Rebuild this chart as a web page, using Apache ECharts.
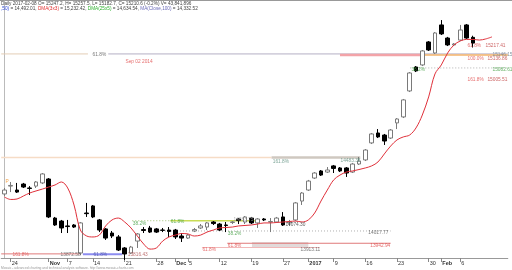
<!DOCTYPE html>
<html><head><meta charset="utf-8">
<script src="https://cdn.jsdelivr.net/npm/echarts@6/dist/echarts.min.js"></script>
<style>html,body{margin:0;padding:0;background:#fff}#c{width:512px;height:270px}</style>
</head><body><div id="c"></div>
<script>
const categories = ['2016-10-21','2016-10-24','2016-10-25','2016-10-26','2016-10-27','2016-10-28','2016-10-31','2016-11-01','2016-11-02','2016-11-04',
'2016-11-07','2016-11-08','2016-11-09','2016-11-10','2016-11-14','2016-11-15','2016-11-16','2016-11-17','2016-11-18','2016-11-21',
'2016-11-22','2016-11-23','2016-11-24','2016-11-25','2016-11-28','2016-11-29','2016-11-30','2016-12-01','2016-12-02','2016-12-05',
'2016-12-06','2016-12-07','2016-12-08','2016-12-09','2016-12-12','2016-12-13','2016-12-14','2016-12-15','2016-12-16','2016-12-19',
'2016-12-20','2016-12-21','2016-12-22','2016-12-23','2016-12-27','2016-12-28','2016-12-29','2016-12-30','2017-01-03','2017-01-04',
'2017-01-05','2017-01-06','2017-01-09','2017-01-10','2017-01-11','2017-01-12','2017-01-13','2017-01-16','2017-01-17','2017-01-18',
'2017-01-19','2017-01-20','2017-01-23','2017-01-24','2017-01-25','2017-01-26','2017-01-27','2017-01-30','2017-01-31','2017-02-01',
'2017-02-02','2017-02-03','2017-02-06','2017-02-07','2017-02-08','2017-02-09','2017-02-10','2017-02-13','2017-02-14','2017-02-15'];

const openV  = [14253,14303,14278,14316,14291,14303,14323,14348,14100,14081,14050,14056,13878,14132,14177,14088,14031,14005,13980,13910,
13878,13954,14027,14037,14031,14024,14024,14024,13986,13973,14018,14037,14043,14075,14062,14056,14072,14094,14075,14100,
14069,14094,14075,14075,14107,14069,14088,14208,14278,14354,14399,14392,14431,14418,14418,14392,14443,14469,14577,14640,
14627,14608,14704,14742,14907,15059,15072,15218,15148,15326,15243,15199,15230,15326,15247.2];
const closeV = [14278,14307,14265,14297,14288,14329,14380,14107,14056,14037,14046,14043,14069,14128,14107,14024,13973,13986,13897,13872,
13916,13999,14021,14011,14011,14022,14015,13980,13973,13992,14027,14050,14069,14065,14024,14053,14075,14084,14107,14069,
14094,14088,14078,14100,14056,14075,14196,14259,14335,14386,14373,14405,14415,14399,14386,14443,14462,14532,14634,14615,
14589,14659,14729,14850,15021,15034,15161,15167,15275,15269,15199,15205,15294,15243,15210.6];
const lowV   = [14240,14265,14259,14291,14246,14291,14316,14100,14050,14005,14005,14037,13865,14107,14100,14011,13961,13973,13891,13834,
13872,13910,14005,14005,14005,14011,13980,13967,13948,13967,14011,14031,14024,14056,14018,14011,14062,14062,14062,14062,
14037,14081,14011,14069,14050,14050,14081,14183,14272,14348,14367,14386,14386,14392,14361,14386,14437,14462,14570,14608,
14564,14602,14665,14735,14900,15027,15065,15161,15142,15262,15192,15192,15224,15237,15182.7];
const highV  = [14291,14329,14323,14323,14303,14335,14386,14354,14107,14088,14088,14062,14075,14196,14183,14094,14037,14018,13992,13916,
13923,14005,14043,14050,14037,14037,14043,14031,14005,13999,14037,14062,14075,14081,14069,14075,14081,14100,14113,14107,
14100,14100,14100,14107,14138,14088,14202,14265,14342,14392,14405,14424,14437,14424,14424,14450,14488,14538,14640,14665,
14634,14665,14735,14856,15027,15065,15167,15224,15281,15357,15250,15211,15326,15332,15257.5];

// DMA(3x3) red line (displaced 3 bars forward)
const dma3x3 = [14234,14218,14221,14240,14259,14272,14284,14297,14310,14329,
14291,14183,14024,13986,13980,13992,14050,14088,14100,14075,
14037,13986,13935,13903,13910,13954,13980,13992,14002,13999,
13986,13992,14011,14024,14037,14040,14043,14050,14053,14056,
14062,14069,14069,14072,14075,14078,14081,14075,14088,14132,
14208,14278,14342,14373,14392,14399,14408,14418,14431,14456,
14507,14557,14596,14615,14627,14672,14754,14869,15015,15072,
15148,15199,15224,15234,15234,15230,15237,15250,null,null];

const tickIndex = [1,7,10,14,19,24,27,29,34,39,44,48,52,57,62,67,69,72];
const tickText  = ['24','Nov','7','14','21','28','Dec','5','12','19','27','2017','9','16','23','30','Feb','6'];
const boldTicks = ['Nov','Dec','2017','Feb'];

// level lines: [fromIndex, toIndex, value, style]
const levelLines = [
  [-0.5, 13.2, 15142, 'tan'],
  [16.4, 79.5, 15142, 'lav'],
  [53, 66.1, 15135, 'pink'],
  [66.1, 79.5, 15135, 'orange'],
  [64.1, 79.5, 15053, 'dotGray'],
  [-0.5, 42.2, 14484, 'peach'],
  [42.2, 56.2, 14484, 'grayBand'],
  [20.2, 26.2, 14083, 'dotGreen'],
  [26.2, 39.9, 14083, 'yellow'],
  [23, 61, 14018, 'dotGray'],
  [39.1, 48, 13932, 'box'],
  [35.2, 61, 13940, 'red'],
  [31.2, 49.8, 13913, 'pinkThin'],
  [-0.5, 11.9, 13872.58, 'red'],
  [12.4, 18.6, 13870, 'blue']
];
// level labels: [text, index, value, colorKey]
const levelLabels = [
  ['61.8%', 13.85, 15135, 'dk'],
  ['Sep 02 2014', 19.05, 15091, 'rd'],
  ['61.8%', 73.06, 15192, 'rd'],
  ['15217.41', 75.9, 15192, 'drd'],
  ['100.0%', 73.06, 15113, 'rd'],
  ['15136.86', 76.2, 15113, 'drd'],
  ['15146.15', 77.0, 15137, 'gb'],
  ['38.2%', 64.2, 15040, 'gr'],
  ['15082.61', 77.0, 15040, 'gr'],
  ['161.8%', 73.06, 14980, 'rd'],
  ['15005.51', 76.2, 14980, 'drd'],
  ['161.8%', 42.3, 14456, 'gg'],
  ['14483.38', 53.0, 14462, 'gg'],
  ['38.2%', 20.2, 14065, 'gr'],
  ['61.8%', 26.2, 14078, 'gr'],
  ['14083.75', 36.1, 14091, 'g2'],
  ['14074.30', 44.3, 14056, 'bk'],
  ['38.2%', 35.2, 13999, 'gr'],
  ['14017.77', 57.4, 14005, 'dk'],
  ['61.8%', 35.2, 13926, 'rd'],
  ['13942.94', 57.7, 13923, 'rd'],
  ['61.8%', 31.2, 13900, 'rd'],
  ['13913.11', 46.7, 13900, 'dk'],
  ['161.8%', 1.2, 13869, 'rd'],
  ['13872.58', 8.8, 13869, 'dk'],
  ['61.8%', 14.0, 13869, 'bl'],
  ['13816.43', 19.4, 13869, 'br'],
  ['P', 0.1, 14329, 'or']
];

const header1 = 'Daily 2017-02-08 O= 15247.2, H= 15257.5, L= 15182.7, C= 15210.6 (-0.2%) V= 43,841,896';
const header2 = '{b|,50)}{k| = 14,492.01, }{r|DMA(3x3)}{k| = 15,232.42, }{g|DMA(25x5)}{k| = 14,634.54, }{p|MA(Close,100)}{k| = 14,332.52}';
const footer = 'Mosaic - advanced charting and technical analysis software. http://www.mosaic-charts.com';

const FONT = '"Liberation Sans", Arial, sans-serif';
const HF = 4.7;
const lineStyles = {
  tan: {color:'#e3cdb5', width:1},
  lav: {color:'#b4b0c4', width:1},
  pink: {color:'#f3a3a8', width:2.5},
  orange: {color:'#f4b36a', width:1.5},
  dotGray: {color:'#b0b0b0', width:1, type:[1,2]},
  peach: {color:'#f6dcc6', width:1.5},
  grayBand: {color:'#cfc8c0', width:2.5},
  dotGreen: {color:'#9cc070', width:1, type:[1,2]},
  yellow: {color:'#c9dc55', width:1.5},
  red: {color:'#e07a7a', width:1},
  box: {color:'#e2dada', width:5},
  pinkThin: {color:'#f2b8b8', width:1},
  blue: {color:'#8c8cf0', width:2}
};
const labelColors = {dk:'#555', rd:'#e04848', drd:'#c04040', gb:'#6a7a8a', gr:'#3c9c3c', gg:'#5e9080', g2:'#999', bk:'#333', bl:'#4048a0', br:'#b05050', or:'#f09020'};

const ohlc = openV.map((o,i)=>[o, closeV[i], lowV[i], highV[i]]);

const series = [];
levelLines.forEach(l => {
  series.push({type:'line', xAxisIndex:1, data:[[l[0], l[2]], [l[1], l[2]]], symbol:'none', silent:true,
    lineStyle: lineStyles[l[3]], z:1, animation:false});
});
series.push({type:'candlestick', xAxisIndex:0, data: ohlc, barWidth:4, z:2,
  itemStyle:{color:'#ffffff', color0:'#000000', borderColor:'#7a7a7a', borderColor0:'#000000', borderWidth:1}});
series.push({type:'line', xAxisIndex:0, data: dma3x3, smooth:0.35, symbol:'none', z:3,
  lineStyle:{color:'#e0303a', width:1}});
series.push({type:'scatter', xAxisIndex:1, symbolSize:1, silent:true, z:5,
  itemStyle:{color:'rgba(0,0,0,0)'},
  label:{show:true, position:'right', distance:0, formatter: p => p.name, fontSize:4.8, fontFamily:FONT},
  data: levelLabels.map(l => ({value:[l[1], l[2]], name:l[0], label:{color: labelColors[l[3]]}}))});

const chart = echarts.init(document.getElementById('c'), null, {renderer:'canvas'});
chart.setOption({
  animation:false,
  backgroundColor:'#ffffff',
  grid:{left:1.2, right:4.2, top:1, bottom:12, outerBoundsMode:'none', containLabel:false},
  title:[
    {text: header1, left:1, top:1, padding:0, textStyle:{fontSize:HF, fontWeight:'normal', color:'#444', fontFamily:FONT}},
    {text: header2, left:1, top:6, padding:0, textStyle:{fontSize:HF, fontWeight:'normal', color:'#444', fontFamily:FONT,
      rich:{b:{color:'#2a46d8', fontSize:HF, fontFamily:FONT}, k:{color:'#444', fontSize:HF, fontFamily:FONT},
            r:{color:'#e03030', fontSize:HF, fontFamily:FONT}, g:{color:'#2fb02f', fontSize:HF, fontFamily:FONT},
            p:{color:'#6a6ab8', fontSize:HF, fontFamily:FONT}}}},
    {text: footer, left:1, bottom:0, padding:0, textStyle:{fontSize:3.3, fontWeight:'normal', color:'#999', fontFamily:FONT}}
  ],
  xAxis:[
    {type:'category', data:categories, boundaryGap:true,
     axisLine:{show:true, lineStyle:{color:'#999', width:1}},
     axisTick:{show:true, alignWithLabel:true, length:4, interval:(i)=>tickIndex.includes(i), lineStyle:{color:'#888'}},
     axisLabel:{show:true, interval:(i)=>tickIndex.includes(i), align:'left', margin:2, padding:[0,0,0,1],
       fontSize:5.5, color:'#333', fontFamily:FONT,
       formatter:(v,i)=>{const k=tickIndex.indexOf(i); const t=k>=0?tickText[k]:''; return boldTicks.includes(t)?'{b|'+t+'}':t;},
       rich:{b:{fontWeight:'bold', fontSize:5.5, color:'#333', fontFamily:FONT}}},
     splitLine:{show:false}},
    {type:'value', min:-0.5, max:categories.length-0.5, show:false}
  ],
  yAxis:{type:'value', min:13846.4, max:15478, position:'right', scale:true,
    axisLine:{show:true, lineStyle:{color:'#bbb'}}, axisTick:{show:false}, axisLabel:{show:false}, splitLine:{show:false}},
  graphic:[{type:'line', shape:{x1:0, y1:0.5, x2:512, y2:0.5}, style:{stroke:'#999', lineWidth:1}, silent:true}],
  series: series
});
</script></body></html>
